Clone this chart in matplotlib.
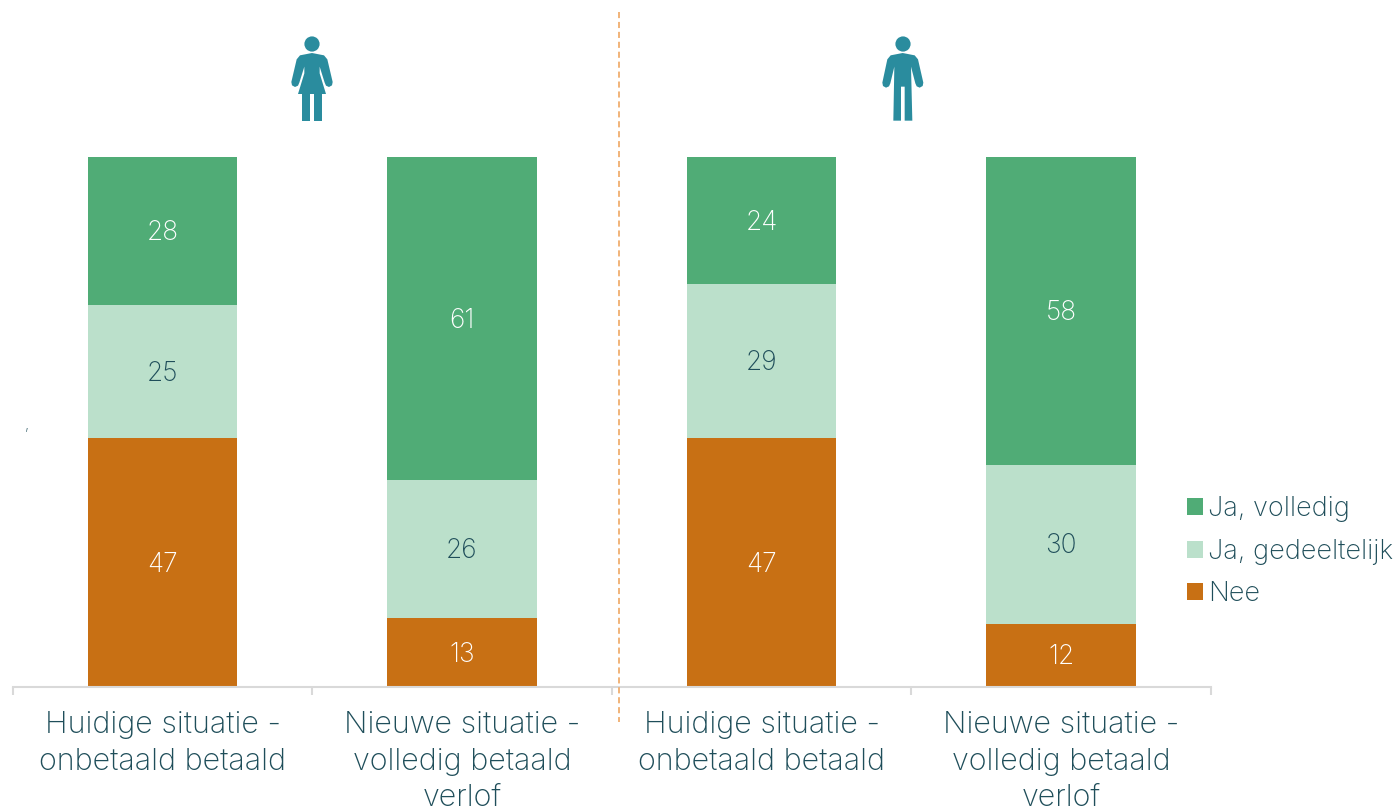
import matplotlib
matplotlib.use('Agg')
import matplotlib.pyplot as plt
from matplotlib.patches import Polygon, Circle, Rectangle

plt.rcParams['font.family'] = ['Inter', 'DejaVu Sans']
plt.rcParams['font.weight'] = 'light'

categories = ['Huidige situatie -\nonbetaald betaald', 'Nieuwe situatie -\nvolledig betaald\nverlof',
              'Huidige situatie -\nonbetaald betaald', 'Nieuwe situatie -\nvolledig betaald\nverlof']
nee = [47, 13, 47, 12]
gedeeltelijk = [25, 26, 29, 30]
volledig = [28, 61, 24, 58]

GREEN = '#50AC76'
LIGHT = '#BBE0CB'
ORANGE = '#C87014'
TEXT = '#1F4E5A'
ICON = '#2A8C9E'
W, H = 1396, 810

fig = plt.figure(figsize=(W / 100, H / 100), dpi=100)
ax = fig.add_axes([12.8 / W, (H - 687.2) / H, 1198 / W, 530.2 / H])

x = range(len(categories))
bottom2 = [a + b for a, b in zip(nee, gedeeltelijk)]
b_nee = ax.bar(x, nee, width=0.5, color=ORANGE, label='Nee')
b_ged = ax.bar(x, gedeeltelijk, width=0.5, bottom=nee, color=LIGHT, label='Ja, gedeeltelijk')
b_vol = ax.bar(x, volledig, width=0.5, bottom=bottom2, color=GREEN, label='Ja, volledig')

ax.bar_label(b_nee, label_type='center', color='white', fontsize=19, padding=-1.5)
ax.bar_label(b_ged, label_type='center', color=TEXT, fontsize=19, padding=-1.5)
ax.bar_label(b_vol, label_type='center', color='white', fontsize=19, padding=-1.5)

ax.set_xlim(-0.5, 3.5)
ax.set_ylim(0, 100)
ax.set_yticks([])
ax.set_xticks(list(x))
ax.set_xticklabels(categories, fontsize=22, color=TEXT, linespacing=1.4)
ax.tick_params(axis='x', which='major', length=0, pad=17)
ax.set_xticks([-0.5, 0.5, 1.5, 2.5, 3.5], minor=True)
ax.tick_params(axis='x', which='minor', length=6, width=1.5, color='#D9D9D9')
for side in ['top', 'left', 'right']:
    ax.spines[side].set_visible(False)
ax.spines['bottom'].set_color('#D9D9D9')
ax.spines['bottom'].set_linewidth(1.5)

handles = [b_vol, b_ged, b_nee]
fig.legend(handles, [h.get_label() for h in handles], loc='upper left',
           bbox_to_anchor=(1187 / W, (H - 496.5) / H), frameon=False, fontsize=19.5,
           labelcolor=TEXT, handlelength=0.59, handleheight=0.59, handletextpad=0.2,
           labelspacing=0.6, borderpad=0, borderaxespad=0)

# overlay in pixel coordinates for the separator and the icons
ov = fig.add_axes([0, 0, 1, 1], facecolor='none')
ov.set_xlim(0, W)
ov.set_ylim(H, 0)
ov.axis('off')
ov.plot([618.5, 618.5], [12, 722], color='#EE9F55', lw=1.1, ls=(0, (4, 2.5)))
ov.text(27, 425, ',', fontsize=11, color=TEXT, ha='center', va='center')


def zoomed(points, ox):
    return [(px / 3 + ox, py / 3 + 20) for px, py in points]


woman = [(126, 99), (90, 106), (80, 118), (64, 186), (66, 196), (75, 201), (84, 197), (88, 188),
         (103, 140), (103, 160), (84, 222), (168, 222), (149, 160), (149, 140), (164, 188),
         (168, 197), (177, 201), (186, 196), (188, 186), (172, 118), (162, 106)]
ov.add_patch(Polygon(zoomed(woman, 270), color=ICON, lw=0))
ov.add_patch(Circle((312, 44), 7.6, color=ICON, lw=0))
ov.add_patch(Rectangle((270 + 97 / 3, 20 + 222 / 3), 24 / 3, 80 / 3, color=ICON, lw=0))
ov.add_patch(Rectangle((270 + 131 / 3, 20 + 222 / 3), 24 / 3, 80 / 3, color=ICON, lw=0))

man = [(128, 99), (92, 106), (82, 118), (67, 188), (69, 198), (78, 203), (87, 199), (91, 190),
       (103, 140), (100, 302), (123, 302), (123, 200), (134, 200), (134, 302), (157, 302),
       (153, 140), (166, 190), (170, 199), (179, 203), (188, 198), (190, 188), (174, 118), (164, 106)]
ov.add_patch(Polygon(zoomed(man, 860), color=ICON, lw=0))
ov.add_patch(Circle((903, 44), 7.6, color=ICON, lw=0))

fig.savefig('out.png', dpi=100)
